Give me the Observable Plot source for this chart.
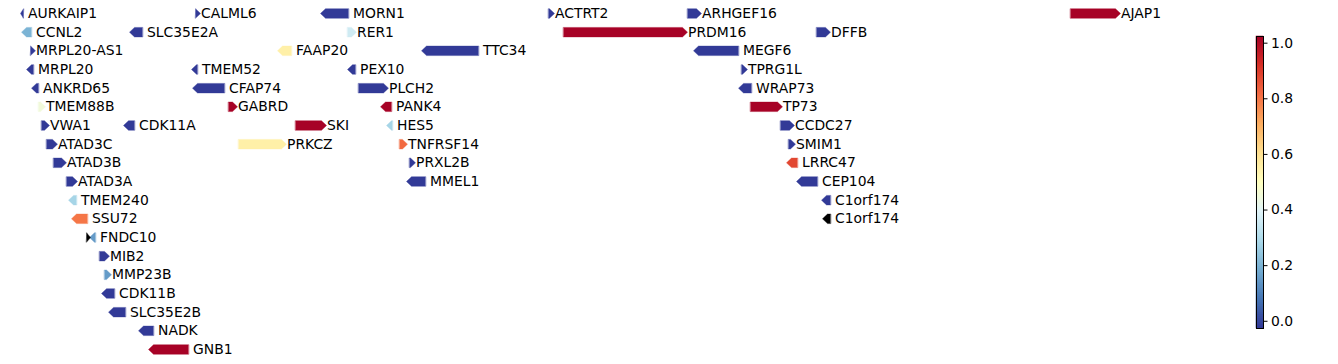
<!DOCTYPE html>
<html>
<head>
<meta charset="utf-8">
<script src="https://cdn.jsdelivr.net/npm/d3@7"></script>
<script src="https://cdn.jsdelivr.net/npm/@observablehq/plot@0.6"></script>
<style>
  html, body { margin: 0; padding: 0; background: white; }
  #wrap { position: relative; width: 1338px; height: 364px; background: white; }
  #main { position: absolute; left: 0; top: 0; }
  #cbar { position: absolute; left: 1230px; top: 0; }
  svg { background: white; }
</style>
</head>
<body>
<div id="wrap"><div id="main"></div><div id="cbar"></div></div>
<script>
// Gene data (positions in kb)
const names   = ["AURKAIP1","CALML6","MORN1","ACTRT2","ARHGEF16","AJAP1",
                 "CCNL2","SLC35E2A","RER1","PRDM16","DFFB",
                 "MRPL20-AS1","FAAP20","TTC34","MEGF6",
                 "MRPL20","TMEM52","PEX10","TPRG1L",
                 "ANKRD65","CFAP74","PLCH2","WRAP73",
                 "TMEM88B","GABRD","PANK4","TP73",
                 "VWA1","CDK11A","SKI","HES5","CCDC27",
                 "ATAD3C","PRKCZ","TNFRSF14","SMIM1",
                 "ATAD3B","PRXL2B","LRRC47",
                 "ATAD3A","MMEL1","CEP104",
                 "TMEM240","C1orf174",
                 "SSU72","C1orf174",
                 "FNDC10","FNDC10",
                 "MIB2","MMP23B","CDK11B","SLC35E2B","NADK","GNB1"];
const starts  = [1370,1895,2270,2954,3371,4520,
                 1373,1697,2351,2999,3758,
                 1400,2141,2573,3389,
                 1388,1883,2351,3533,
                 1403,1886,2384,3524,
                 1424,1994,2450,3560,
                 1433,1679,2195,2468,3650,
                 1448,2024,2507,3674,
                 1469,2537,3668,
                 1508,2528,3698,
                 1514,3773,
                 1523,3776,
                 1568,1577,
                 1607,1622,1613,1634,1724,1754];
const ends    = [1379,1910,2354,2972,3413,4670,
                 1403,1736,2378,3371,3800,
                 1415,2183,2744,3524,
                 1409,1901,2375,3551,
                 1424,1982,2474,3563,
                 1445,2021,2483,3656,
                 1457,1712,2288,2486,3692,
                 1481,2168,2531,3695,
                 1508,2555,3701,
                 1541,2585,3761,
                 1538,3800,
                 1571,3800,
                 1580,1595,
                 1637,1643,1652,1685,1769,1874];
const strands = [-1, 1,-1, 1, 1, 1,
                 -1,-1, 1, 1, 1,
                  1,-1,-1,-1,
                 -1,-1,-1, 1,
                 -1,-1, 1,-1,
                  1, 1,-1, 1,
                  1,-1, 1,-1, 1,
                  1, 1, 1, 1,
                  1, 1,-1,
                  1,-1,-1,
                 -1,-1,
                 -1,-1,
                  1,-1,
                  1, 1,-1,-1,-1,-1];
const rows    = [0,0,0,0,0,0,
                 1,1,1,1,1,
                 2,2,2,2,
                 3,3,3,3,
                 4,4,4,4,
                 5,5,5,5,
                 6,6,6,6,6,
                 7,7,7,7,
                 8,8,8,
                 9,9,9,
                 10,10,
                 11,11,
                 12,12,
                 13,14,15,16,17,18];
const values  = [-0.02,-0.02,-0.02,-0.02,-0.02,1.02,
                 0.2,-0.02,0.36,1.02,-0.02,
                 -0.02,0.55,-0.02,-0.02,
                 -0.02,-0.02,-0.02,-0.02,
                 -0.02,-0.02,-0.02,-0.02,
                 0.45,1.02,1.02,1.02,
                 -0.02,-0.02,1.02,0.28,-0.02,
                 -0.02,0.55,0.82,-0.02,
                 -0.02,-0.02,0.88,
                 -0.02,-0.02,-0.02,
                 0.28,-0.02,
                 0.8,null,
                 null,0.15,
                 -0.02,0.15,-0.02,-0.02,-0.02,1.02];
const showLabel = names.map((n, i) => !(n === "FNDC10" && values[i] === null));
const colorTicks = [0, 0.2, 0.4, 0.6, 0.8, 1.0];
const paletteRdYlBuR = ["#313695","#4575b4","#74add1","#abd9e9","#e0f3f8","#ffffbf","#fee090","#fdae61","#f46d43","#d73027","#a50026"];
const vmin = -0.026, vmax = 1.024;

const genes = names.map((name, i) => ({id: i, name, start: starts[i], end: ends[i],
  strand: strands[i], row: rows[i], value: values[i], label: showLabel[i]}));

// arrow geometry in data units
const headKb = 15;     // arrow head length
const halfH = 0.255;   // half arrow height in row units

function arrowPoints(g) {
  const h = Math.min(headKb, g.end - g.start);
  const r = g.row;
  let pts;
  if (g.strand > 0) {
    pts = [[g.start, r - halfH], [g.end - h, r - halfH], [g.end, r], [g.end - h, r + halfH], [g.start, r + halfH]];
  } else {
    pts = [[g.end, r - halfH], [g.start + h, r - halfH], [g.start, r], [g.start + h, r + halfH], [g.end, r + halfH]];
  }
  return pts.map(([x, y]) => ({id: g.id, x, y, value: g.value}));
}

const colored = genes.filter(g => g.value !== null).flatMap(arrowPoints);
const black = genes.filter(g => g.value === null).flatMap(arrowPoints);
const labelsFwd = genes.filter(g => g.label && g.strand > 0);
const labelsRev = genes.filter(g => g.label && g.strand < 0);

const colorDomain = paletteRdYlBuR.map((_, i) => vmin + (vmax - vmin) * i / (paletteRdYlBuR.length - 1));
const colorOpts = {type: "linear", domain: colorDomain, range: paletteRdYlBuR, interpolate: "rgb"};
const font = "DejaVu Sans, sans-serif";
const fs = 13.9;

const main = Plot.plot({
  width: 1230, height: 364,
  marginLeft: 0, marginRight: 0, marginTop: 0, marginBottom: 0,
  x: {domain: [1310, 1310 + 3 * 1230], range: [0, 1230], axis: null},
  y: {domain: [0, 18], range: [13, 349], axis: null},
  color: colorOpts,
  style: {fontFamily: font, fontSize: fs + "px", background: "white"},
  marks: [
    Plot.line(colored, {x: "x", y: "y", z: "id", fill: "value", stroke: "value", strokeWidth: 0.4, curve: "linear-closed"}),
    Plot.line(black, {x: "x", y: "y", z: "id", fill: "black", stroke: "black", strokeWidth: 0.4, curve: "linear-closed"}),
    Plot.text(labelsFwd, {x: "end", y: "row", text: "name", textAnchor: "start", dx: 0.5, fontSize: fs, fontFamily: font, fill: "black"}),
    Plot.text(labelsRev, {x: "end", y: "row", text: "name", textAnchor: "start", dx: 4.5, fontSize: fs, fontFamily: font, fill: "black"})
  ]
});
document.getElementById("main").appendChild(main);

// colorbar
const N = 146;
const step = (vmax - vmin) / N;
const bands = d3.range(N).map(i => ({y1: vmin + i * step, y2: vmin + (i + 1) * step, v: vmin + (i + 0.5) * step}));
const cbar = Plot.plot({
  width: 108, height: 364,
  marginLeft: 26, marginRight: 75, marginTop: 36, marginBottom: 36,
  y: {domain: [vmin, vmax], axis: null},
  color: colorOpts,
  style: {fontFamily: font, fontSize: fs + "px", background: "white"},
  marks: [
    Plot.rect(bands, {y1: "y1", y2: "y2", fill: "v", stroke: "v", strokeWidth: 0.5}),
    Plot.frame({stroke: "black", strokeWidth: 1}),
    Plot.axisY(colorTicks, {anchor: "right", tickFormat: d3.format(".1f"), tickSize: 3.5, tickPadding: 4, fontSize: fs, fontFamily: font, label: null, stroke: "black", fill: "black"})
  ]
});
document.getElementById("cbar").appendChild(cbar);
</script>
</body>
</html>
